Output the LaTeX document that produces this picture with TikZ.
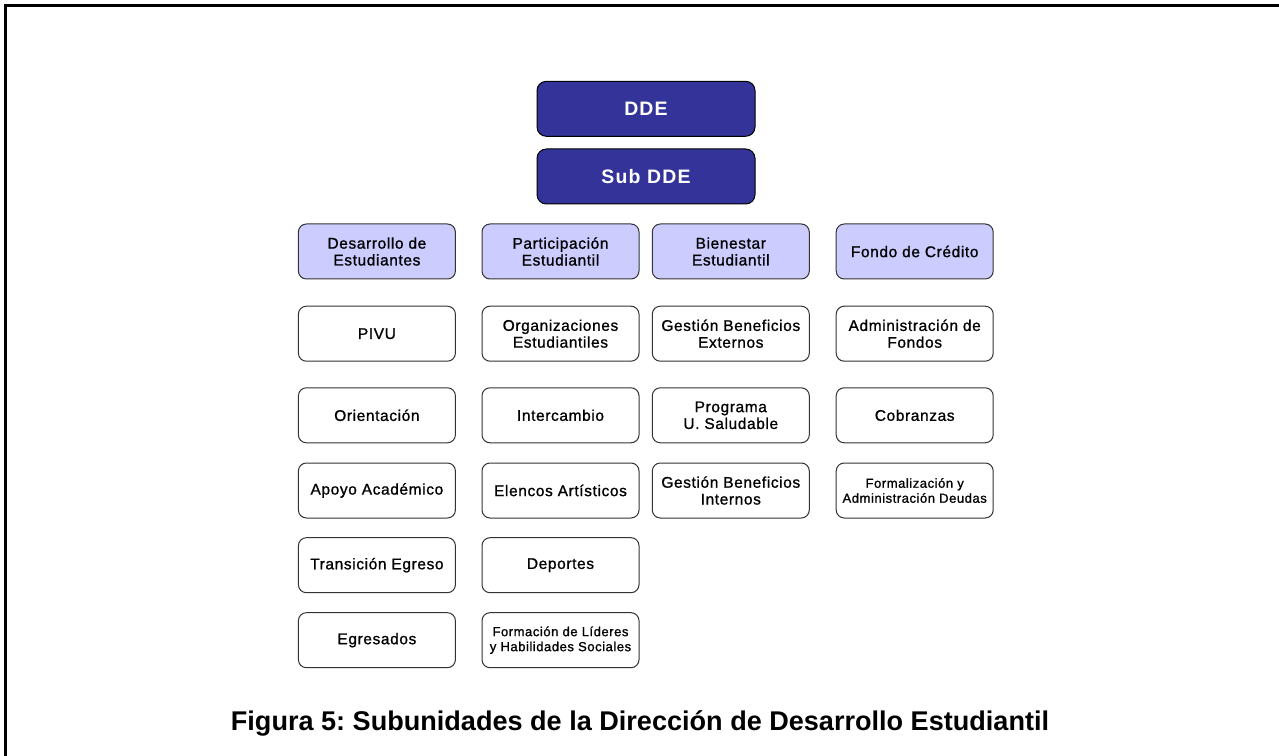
\documentclass[tikz,border=0pt]{standalone}
\usepackage{fontspec}
\setmainfont{Liberation Sans}
\newfontfamily\boxfont[LetterSpace=4,FakeBold=1]{Liberation Sans}
\newfontfamily\boxfontb[LetterSpace=6]{Liberation Sans Bold}
\definecolor{darkblue}{HTML}{333399}
\definecolor{lightpurple}{HTML}{CCCCFF}
\definecolor{edgegray}{HTML}{333333}
\frenchspacing
\begin{document}
\begin{tikzpicture}[x=0.75pt,y=-0.75pt,
  unitbox/.style={draw=edgegray,line width=0.75pt,rounded corners=6pt,
    minimum width=117.75pt,minimum height=41.25pt,inner sep=0pt,align=center,
    font=\boxfont\fontsize{11.6}{12.6}\selectfont},
  headbox/.style={unitbox,fill=lightpurple},
  smallbox/.style={unitbox,font=\boxfont\fontsize{9.8}{11.25}\selectfont},
  topbox/.style={draw=black,line width=0.75pt,rounded corners=7pt,fill=darkblue,text=white,
    minimum width=163.5pt,minimum height=41.25pt,inner sep=0pt,
    font=\boxfontb\fontsize{14.6}{17}\selectfont}]
\useasboundingbox (0,0) rectangle (1279,756);
\fill[white] (0,0) rectangle (1279,756);
\draw[line width=1.6pt,black] (1279,5.5) -- (5.5,5.5) -- (5.5,756);
% top boxes
\node[topbox] (dde) at (646,108.8) {DDE};
\node[topbox] (sub) at (646,176.5) {Sub DDE};
% column heads
\node[headbox] (h1) at (376.9,251.5) {Desarrollo de\\Estudiantes};
\node[headbox] (h2) at (560.5,251.5) {Participación\\Estudiantil};
\node[headbox] (h3) at (730.8,251.5) {Bienestar\\Estudiantil};
\node[headbox] (h4) at (914.7,251.5) {Fondo de Crédito};
% column 1
\node[unitbox] (a1) at (376.9,333.7) {PIVU};
\node[unitbox] (a2) at (376.9,415.3) {Orientación};
\node[unitbox] (a3) at (376.9,490.5) {Apoyo Académico};
\node[unitbox] (a4) at (376.9,565.2) {Transición Egreso};
\node[unitbox] (a5) at (376.9,640.2) {Egresados};
% column 2
\node[unitbox] (b1) at (560.5,333.7) {Organizaciones\\Estudiantiles};
\node[unitbox] (b2) at (560.5,415.3) {Intercambio};
\node[unitbox] (b3) at (560.5,490.5) {Elencos Artísticos};
\node[unitbox] (b4) at (560.5,565.2) {Deportes};
\node[smallbox] (b5) at (560.5,640.2) {Formación de Líderes\\y Habilidades Sociales};
% column 3
\node[unitbox] (c1) at (730.8,333.7) {Gestión Beneficios\\Externos};
\node[unitbox] (c2) at (730.8,415.3) {Programa\\U. Saludable};
\node[unitbox] (c3) at (730.8,490.5) {Gestión Beneficios\\Internos};
% column 4
\node[unitbox] (d1) at (914.7,333.7) {Administración de\\Fondos};
\node[unitbox] (d2) at (914.7,415.3) {Cobranzas};
\node[smallbox] (d3) at (914.7,490.5) {Formalización y\\Administración Deudas};
% caption
\node[anchor=base,inner sep=0pt,font=\bfseries\fontsize{20.3}{24}\selectfont] (cap) at (640,730) {Figura 5: Subunidades de la Dirección de Desarrollo Estudiantil};
\end{tikzpicture}
\end{document}
